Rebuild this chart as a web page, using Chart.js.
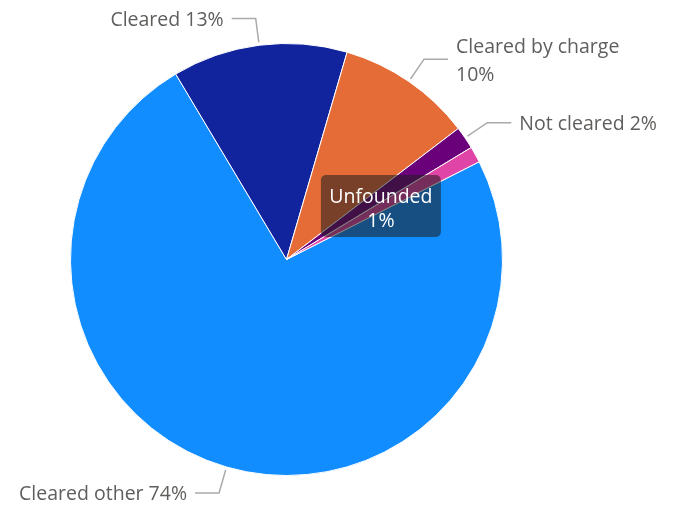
<!DOCTYPE html>
<html>
<head>
<meta charset="utf-8">
<script src="https://cdn.jsdelivr.net/npm/chart.js@4"></script>
<style>
  html, body { margin: 0; padding: 0; background: #fff; }
  #wrap { width: 680px; height: 519px; }
</style>
</head>
<body>
<div id="wrap"><canvas id="pieChart" width="680" height="519"></canvas></div>
<script>
const categories = ['Cleared other', 'Cleared', 'Cleared by charge', 'Not cleared', 'Unfounded'];
const shares = [73.9, 13.1, 10.1, 1.7, 1.2];
const percentLabels = ['74%', '13%', '10%', '2%', '1%'];
const colors = ['#118DFF', '#12239E', '#E66C37', '#6B007B', '#E044A7'];

const FONT = '"Open Sans", "Noto Sans", sans-serif';

// outside labels with leader lines, and the dark box for the highlighted slice
const pieLabels = {
    id: 'pieLabels',
    afterDatasetsDraw(chart) {
        const ctx = chart.ctx;
        const arcs = chart.getDatasetMeta(0).data;
        ctx.save();
        arcs.forEach((arc, i) => {
            const p = arc.getProps(['x', 'y', 'startAngle', 'endAngle', 'outerRadius']);
            if (i === 4) {
                const pos = arc.tooltipPosition();
                const w = 120, h = 62;
                ctx.fillStyle = 'rgba(30,30,30,0.55)';
                ctx.beginPath();
                ctx.roundRect(pos.x - w / 2, pos.y - h / 2 - 1, w, h, 5);
                ctx.fill();
                ctx.fillStyle = '#fff';
                ctx.font = '19.5px ' + FONT;
                ctx.textAlign = 'center';
                ctx.textBaseline = 'middle';
                ctx.fillText(categories[i], pos.x, pos.y - 10);
                ctx.fillText(percentLabels[i], pos.x, pos.y + 14);
                return;
            }
            const mid = (p.startAngle + p.endAngle) / 2;
            const cos = Math.cos(mid), sin = Math.sin(mid);
            const x0 = p.x + cos * (p.outerRadius + 3), y0 = p.y + sin * (p.outerRadius + 3);
            const x1 = p.x + cos * (p.outerRadius + 27), y1 = p.y + sin * (p.outerRadius + 27);
            const right = cos >= 0;
            const x2 = x1 + (right ? 24 : -24);
            ctx.strokeStyle = '#aaaaaa';
            ctx.lineWidth = 1.5;
            ctx.beginPath();
            ctx.moveTo(x0, y0);
            ctx.lineTo(x1, y1);
            ctx.lineTo(x2, y1);
            ctx.stroke();
            ctx.fillStyle = '#605E5C';
            ctx.font = '19.5px ' + FONT;
            ctx.textAlign = right ? 'left' : 'right';
            ctx.textBaseline = 'middle';
            const tx = x2 + (right ? 8 : -8);
            const ty = y1 + 1.5;
            if (i === 2) {
                ctx.fillText(categories[i], tx, ty - 13);
                ctx.fillText(percentLabels[i], tx, ty + 15);
            } else {
                ctx.fillText(categories[i] + ' ' + percentLabels[i], tx, ty);
            }
        });
        ctx.restore();
    }
};

const ctx = document.getElementById('pieChart').getContext('2d');
new Chart(ctx, {
    type: 'pie',
    data: {
        labels: categories,
        datasets: [{
            data: shares,
            backgroundColor: colors,
            borderColor: '#ffffff',
            borderWidth: 1
        }]
    },
    options: {
        responsive: false,
        animation: false,
        rotation: 63.1,
        layout: {
            padding: { top: 43, bottom: 43, left: 70, right: 177 }
        },
        plugins: {
            legend: { display: false },
            tooltip: { enabled: false }
        }
    },
    plugins: [pieLabels]
});
</script>
</body>
</html>
